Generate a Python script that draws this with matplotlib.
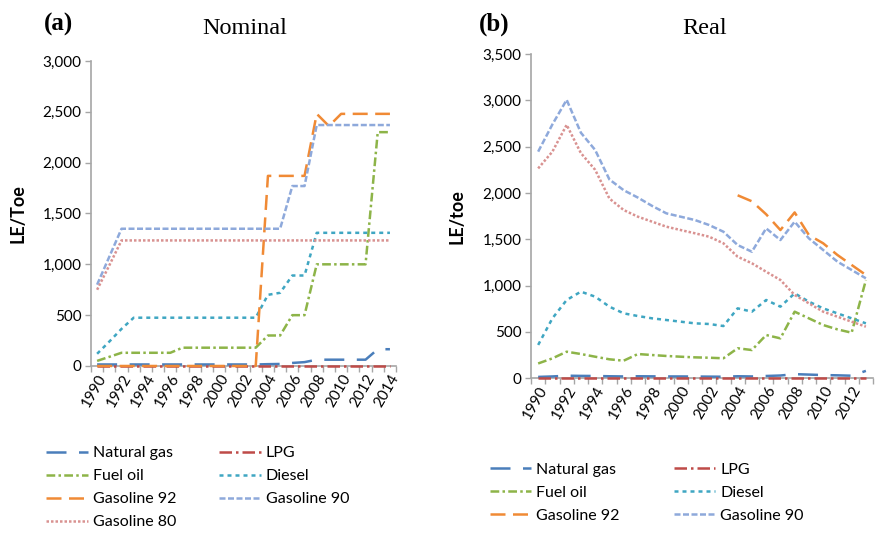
import numpy as np
import matplotlib
matplotlib.use("Agg")
import matplotlib.pyplot as plt

plt.rcParams["font.family"] = ["Lato", "DejaVu Sans"]

# -------- data --------
years_nom = list(range(1990, 2015))
years_real = list(range(1990, 2014))

# nominal prices (LE/Toe)
nat_gas_nom = [15] * 14 + [18, 20, 30, 38, 62, 62, 62, 62, 62, 165, 165]
lpg_nom = [3] * 25
fuel_oil_nom = [50, 90, 130, 130, 130, 130, 130, 180, 180, 180, 180, 180, 180, 180,
                300, 300, 500, 500, 1000, 1000, 1000, 1000, 1000, 2300, 2300]
diesel_nom = [120, 240, 365, 475, 475, 475, 475, 475, 475, 475, 475, 475, 475, 475,
              700, 720, 890, 890, 1310, 1310, 1310, 1310, 1310, 1310, 1310]
gas92_nom = [0] * 14 + [1870, 1870, 1870, 1870, 2480, 2360, 2480, 2480, 2480, 2480, 2480]
gas90_nom = [800, 1075] + [1350] * 14 + [1770, 1770] + [2370] * 7
gas80_nom = [750, 990] + [1235] * 23

# real prices (LE/toe)
nat_gas_real = [15, 20, 28, 26, 25, 22, 20, 22, 21, 20, 20, 19, 18, 17,
                22, 20, 25, 30, 45, 40, 35, 32, 28, 80]
lpg_real = [3] * 24
fuel_oil_real = [160, 215, 287, 262, 233, 205, 190, 262, 251, 241, 233, 226, 222, 216,
                 324, 305, 467, 431, 719, 647, 575, 528, 492, 1060]
diesel_real = [360, 647, 845, 935, 881, 773, 701, 672, 647, 629, 611, 593, 586, 564,
               755, 719, 845, 773, 917, 827, 755, 701, 647, 593]
gas92_real = [np.nan] * 14 + [1975, 1910, 1770, 1600, 1790, 1546, 1457, 1331, 1223, 1115]
gas90_real = [2446, 2740, 3005, 2650, 2464, 2146, 2030, 1950, 1860, 1780, 1744, 1708,
              1654, 1582, 1438, 1366, 1618, 1492, 1690, 1510, 1385, 1259, 1169, 1079]
gas80_real = [2265, 2446, 2735, 2430, 2250, 1940, 1816, 1744, 1690, 1636, 1600, 1565,
              1528, 1457, 1312, 1241, 1150, 1061, 899, 809, 719, 665, 611, 557]

# -------- styles --------
styles = {
    "Natural gas": dict(color="#4a7ebb", dashes=(8, 5)),
    "LPG": dict(color="#be4b48", dashes=(5, 1.6, 1, 1.6)),
    "Fuel oil": dict(color="#8db448", dashes=(3.5, 1.3, 1, 1.3)),
    "Diesel": dict(color="#3fa6c2", dashes=(1.6, 1.6)),
    "Gasoline 92": dict(color="#f08a35", dashes=(6, 3)),
    "Gasoline 90": dict(color="#8ea9db", dashes=(2.4, 1.0)),
    "Gasoline 80": dict(color="#d99291", dashes=(1.0, 0.8)),
}
LW = 1.8
AXC = "#a6a6a6"
FS = 11

fig = plt.figure(figsize=(8.76, 5.35), dpi=100)


def style_axis(ax, years, label_years, ymax, ystep, ylabel, lab_x):
    n = len(years)
    x = np.arange(n)
    ax.set_xlim(-0.5, n - 0.5)
    ax.set_ylim(0, ymax)
    ax.set_xticks(np.arange(n + 1) - 0.5, minor=True)
    ax.set_xticks([years.index(y) for y in label_years])
    ax.set_xticklabels([str(y) for y in label_years], rotation=60, ha="right",
                       rotation_mode="anchor", fontsize=FS)
    ax.tick_params(axis="x", which="major", length=0, pad=4)
    ax.tick_params(axis="x", which="minor", length=4, color=AXC, width=1)
    yt = np.arange(0, ymax + 1, ystep)
    ax.set_yticks(yt)
    ax.set_yticklabels([f"{v:,}" for v in yt], fontsize=FS)
    ax.tick_params(axis="y", length=4, color=AXC, width=1, pad=3)
    for s in ["top", "right"]:
        ax.spines[s].set_visible(False)
    for s in ["left", "bottom"]:
        ax.spines[s].set_color(AXC)
        ax.spines[s].set_linewidth(1.2)
    ax.set_ylabel(ylabel, fontsize=13, fontweight="bold")
    ax.yaxis.set_label_coords(lab_x, 0.5)
    return x


# -------- panel (a) --------
ax1 = fig.add_axes([0.1039, 0.3159, 0.3482, 0.5701])
x1 = style_axis(ax1, years_nom, list(range(1990, 2015, 2)), 3000, 500, "LE/Toe", -0.21)
series_nom = [
    ("Natural gas", nat_gas_nom), ("LPG", lpg_nom), ("Fuel oil", fuel_oil_nom),
    ("Diesel", diesel_nom), ("Gasoline 92", gas92_nom), ("Gasoline 90", gas90_nom),
    ("Gasoline 80", gas80_nom),
]
h1 = {}
for name, vals in series_nom:
    st = styles[name]
    (ln,) = ax1.plot(x1, vals, color=st["color"], lw=LW, dashes=st["dashes"],
                     label=name, clip_on=False, zorder=3)
    h1[name] = ln

order1 = ["Natural gas", "Fuel oil", "Gasoline 92", "Gasoline 80",
          "LPG", "Diesel", "Gasoline 90"]
fig.legend([h1[k] for k in order1], order1, loc="upper left",
           bbox_to_anchor=(0.053, 0.166), ncol=2, frameon=False, fontsize=11.5,
           handlelength=2.6, handletextpad=0.3, columnspacing=2.7,
           labelspacing=0.55, borderaxespad=0, borderpad=0)

# -------- panel (b) --------
ax2 = fig.add_axes([0.6062, 0.2929, 0.3904, 0.6062])
x2 = style_axis(ax2, years_real, list(range(1990, 2013, 2)), 3500, 500, "LE/toe", -0.193)
series_real = [
    ("Natural gas", nat_gas_real), ("LPG", lpg_real), ("Fuel oil", fuel_oil_real),
    ("Diesel", diesel_real), ("Gasoline 92", gas92_real), ("Gasoline 90", gas90_real),
    ("Gasoline 80", gas80_real),
]
h2 = {}
for name, vals in series_real:
    st = styles[name]
    (ln,) = ax2.plot(x2, vals, color=st["color"], lw=LW, dashes=st["dashes"],
                     label=name, clip_on=False, zorder=3)
    h2[name] = ln

order2 = ["Natural gas", "Fuel oil", "Gasoline 92", "LPG", "Diesel", "Gasoline 90"]
fig.legend([h2[k] for k in order2], order2, loc="upper left",
           bbox_to_anchor=(0.559, 0.135), ncol=2, frameon=False, fontsize=11.5,
           handlelength=2.6, handletextpad=0.3, columnspacing=3.4,
           labelspacing=0.55, borderaxespad=0, borderpad=0)

# -------- titles --------
serif = ["Liberation Serif", "DejaVu Serif"]
fig.text(245 / 876, 1 - 34 / 535, "Nominal", family=serif, fontsize=17.5,
         ha="center", va="baseline")
fig.text(44 / 876, 1 - 31 / 535, "(a)", family=serif, fontsize=18,
         fontweight="bold", ha="left", va="baseline")
fig.text(705 / 876, 1 - 34 / 535, "Real", family=serif, fontsize=17.5,
         ha="center", va="baseline")
fig.text(479 / 876, 1 - 31 / 535, "(b)", family=serif, fontsize=18,
         fontweight="bold", ha="left", va="baseline")

fig.savefig("out.png", dpi=100)
